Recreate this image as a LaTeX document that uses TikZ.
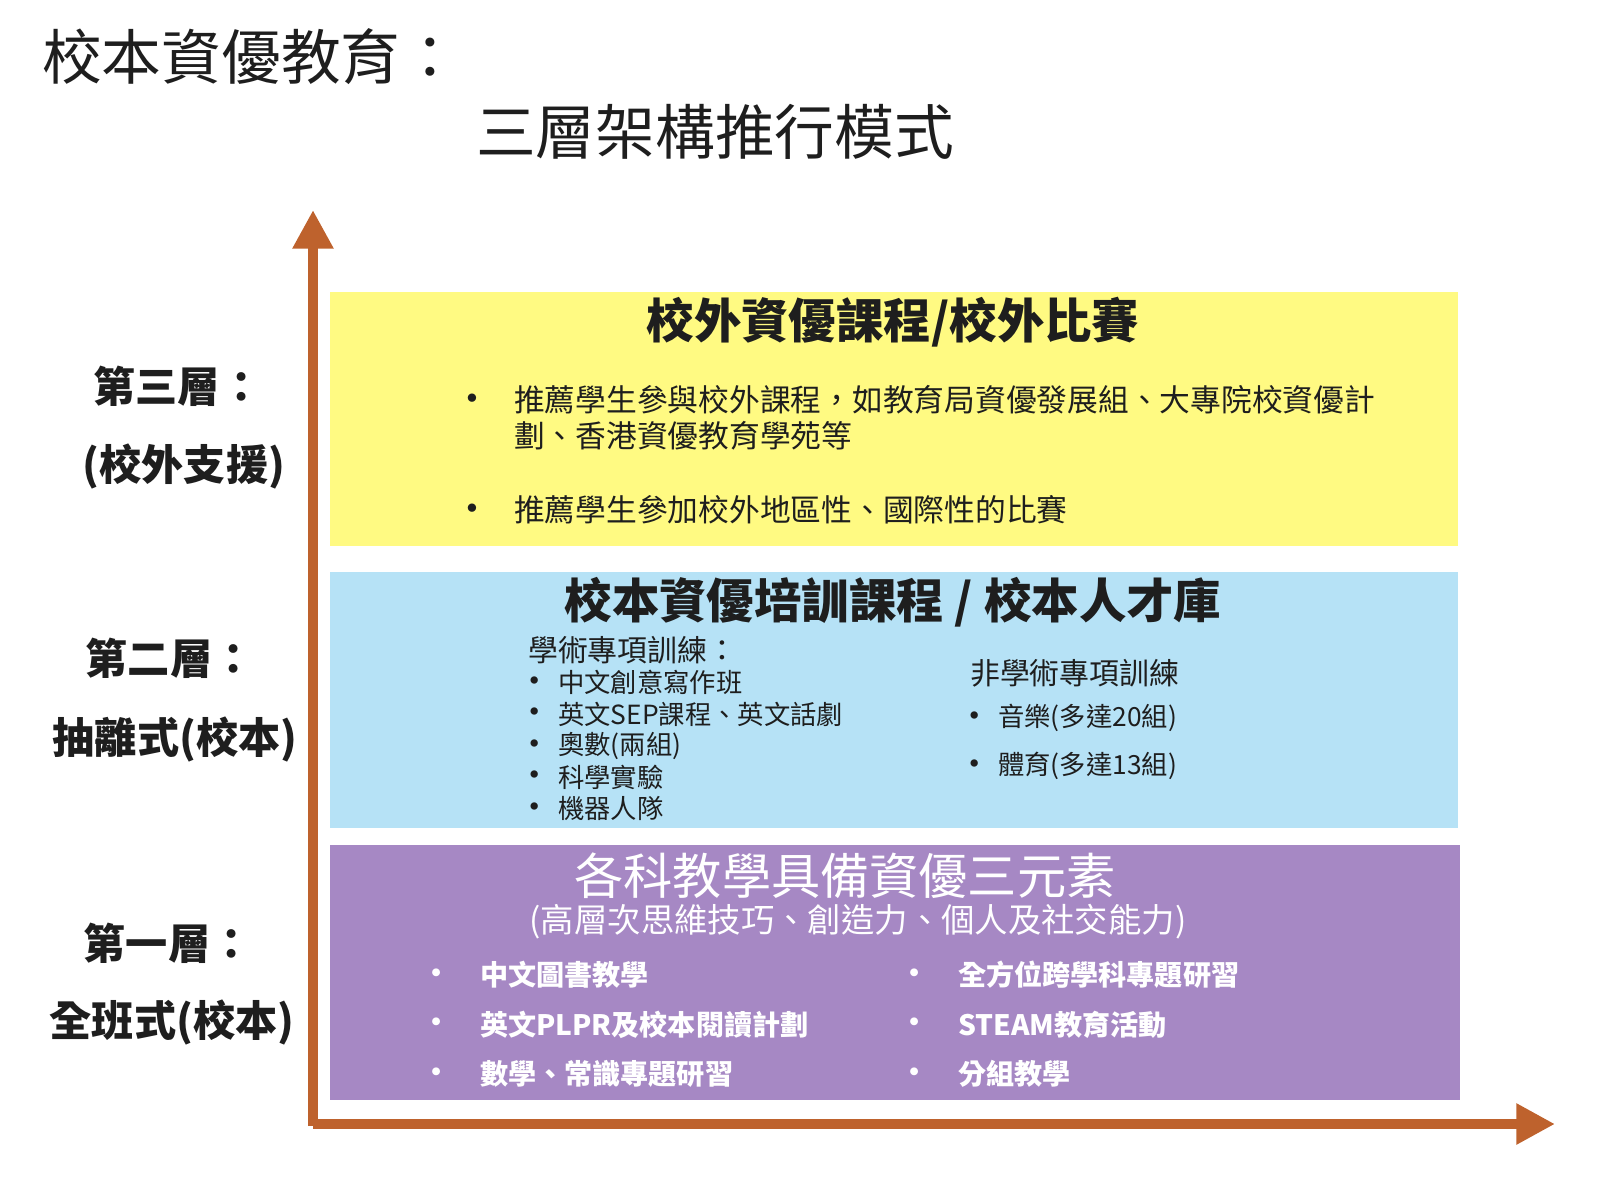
\documentclass[tikz,border=0pt]{standalone}
\usepackage{fontspec}
\setmainfont{Noto Sans CJK TC}
\usetikzlibrary{arrows.meta}
\definecolor{axis}{RGB}{190,98,45}
\definecolor{tier3}{RGB}{255,250,130}
\definecolor{tier2}{RGB}{182,226,246}
\definecolor{tier1}{RGB}{166,136,196}
\definecolor{ink}{RGB}{30,30,30}
\tikzset{
  side/.style={font=\fontsize{24}{28}\selectfont\bfseries, text=ink},
  head/.style={font=\fontsize{27}{31}\selectfont\bfseries, text=ink},
  item/.style={anchor=west, font=\fontsize{15}{18}\selectfont, text=ink},
  dot/.style={font=\fontsize{15}{18}\selectfont\bfseries, text=ink},
  witem/.style={anchor=west, font=\fontsize{16}{19}\selectfont\bfseries, text=white},
  wdot/.style={font=\fontsize{16}{19}\selectfont\bfseries, text=white}
}
\begin{document}
\begin{tikzpicture}[x=0.02cm, y=-0.02cm]
\useasboundingbox (0,0) rectangle (1600,1197);
% titles
\node[anchor=west, font=\fontsize{34}{38}\selectfont, text=ink] (t1) at (36,57) {校本資優教育：};
\node[anchor=west, font=\fontsize{34}{38}\selectfont, text=ink] (t2) at (470,132) {三層架構推行模式};
% tier boxes
\fill[tier3] (330,292) rectangle (1458,546);
\fill[tier2] (330,572) rectangle (1458,828);
\fill[tier1] (330,845) rectangle (1460,1100);
% axes
\coordinate (o) at (313,1124);
\coordinate (top) at (313,210);
\coordinate (right) at (1555,1124);
\draw[axis, line width=6pt, -{Triangle[length=22pt,width=22pt]}] (313,1126) -- (top);
\draw[axis, line width=6pt, -{Triangle[length=22pt,width=22pt]}] (o) -- (right);
% side labels
\node[side] (s3a) at (178,386) {第三層：};
\node[side] (s3b) at (184,466) {(校外支援)};
\node[side] (s2a) at (170,658) {第二層：};
\node[side] (s2b) at (175,739) {抽離式(校本)};
\node[side] (s1a) at (168,943) {第一層：};
\node[side] (s1b) at (172,1022) {全班式(校本)};
% tier three
\node[head] (h3) at (893,322) {校外資優課程/校外比賽};
\node[dot, font=\fontsize{17}{20}\selectfont\bfseries] at (472,402) {•};
\node[item, font=\fontsize{17.5}{21}\selectfont] (a1) at (508,400) {推薦學生參與校外課程，如教育局資優發展組、大專院校資優計};
\node[item, font=\fontsize{17.5}{21}\selectfont] (a2) at (508,436) {劃、香港資優教育學苑等};
\node[dot, font=\fontsize{17}{20}\selectfont\bfseries] at (472,512) {•};
\node[item, font=\fontsize{17.5}{21}\selectfont] (a3) at (508,510) {推薦學生參加校外地區性、國際性的比賽};
% tier two
\node[head] (h2) at (893,602) {校本資優培訓課程 / 校本人才庫};
\node[item, font=\fontsize{17}{20}\selectfont] (b0) at (522,650) {學術專項訓練：};
\foreach \t [count=\i] in {中文創意寫作班,英文SEP課程、英文話劇,奧數(兩組),科學實驗,機器人隊}{
  \node[dot] at ({535},{652+31.5*\i}) {•};
  \node[item] (b\i) at ({552},{651+31.5*\i}) {\t};
}
\node[item, font=\fontsize{17}{20}\selectfont] (c0) at (964,673) {非學術專項訓練};
\node[dot] at (975,719) {•};
\node[item] (c1) at (992,718) {音樂(多達20組)};
\node[dot] at (975,767) {•};
\node[item] (c2) at (992,766) {體育(多達13組)};
% tier one
\node[font=\fontsize{28}{32}\selectfont, text=white] (h1) at (845,876) {各科教學具備資優三元素};
\node[font=\fontsize{19}{22}\selectfont, text=white] (h1b) at (858,922) {(高層次思維技巧、創造力、個人及社交能力)};
\foreach \t [count=\i] in {中文圖書教學,英文PLPR及校本閱讀計劃,數學、常識專題研習}{
  \node[wdot] at ({437},{976+49.5*(\i-1)}) {•};
  \node[witem] (d\i) at ({474},{975+49.5*(\i-1)}) {\t};
}
\foreach \t [count=\i] in {全方位跨學科專題研習,STEAM教育活動,分組教學}{
  \node[wdot] at ({915},{976+49.5*(\i-1)}) {•};
  \node[witem] (e\i) at ({952},{975+49.5*(\i-1)}) {\t};
}
\end{tikzpicture}
\end{document}
